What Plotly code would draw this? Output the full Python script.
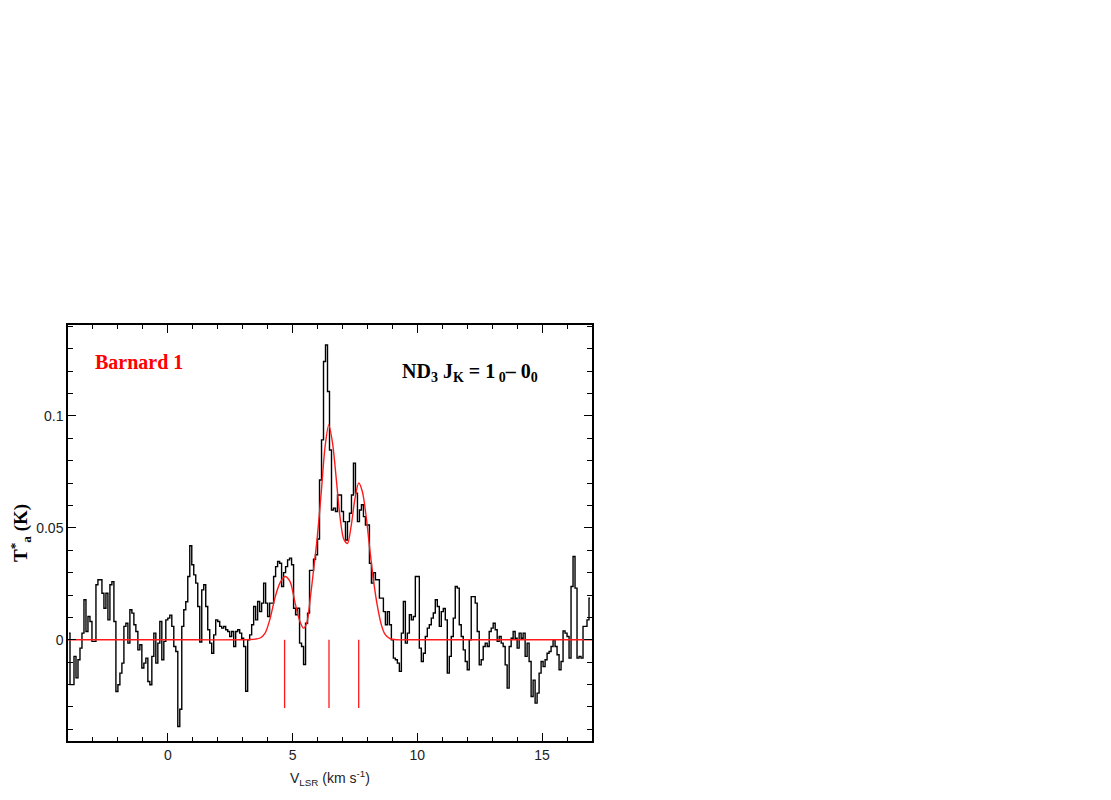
import plotly.graph_objects as go

# ---------------- data ----------------
V_START = -3.96          # centre velocity of first channel (km/s)
CHANNEL_WIDTH = 0.08     # km/s
TA = [
    0.003, -0.020, -0.020, -0.0074, -0.017, -0.0089, -0.0037, 0.003, 0.0179, 0.0037,
    0.0104, 0.0082, -0.0007, -0.0007, 0.0246, 0.0268, 0.0268, 0.0208, 0.0141, 0.0208,
    0.0089, 0.0246, 0.026, 0.0082, -0.0231, -0.0201, -0.0149, -0.0104, 0.006, 0.0074,
    -0.0015, 0.0134, 0.0119, 0.0067, 0.0037, -0.0045, -0.0022, -0.0126, -0.0104, -0.0082,
    -0.0186, -0.0201, -0.0074, 0.003, -0.0104, -0.0015, 0.0082, -0.0089, -0.0007, 0.0089,
    0.0097, 0.011, 0.006, -0.003, -0.0052, -0.0387, -0.031, 0.006, 0.0134, 0.017,
    0.0283, 0.042, 0.0335, 0.029, 0.0253, 0.0149, -0.001, 0.0223, 0.0246, 0.0149,
    0.0045, -0.0015, -0.006, 0.0022, 0.0089, 0.0082, 0.006, 0.0052, 0.006, 0.0045,
    0.0037, 0.0015, 0.0037, -0.003, 0.0037, 0.0045, 0.003, 0.0007, -0.003, -0.023,
    0.0, 0.0022, 0.0067, 0.0149, 0.0089, 0.0171, 0.0126, 0.0164, 0.0253, 0.0164,
    0.0104, 0.0164, 0.0164, 0.0283, 0.0327, 0.035, 0.0342, 0.0238, 0.03, 0.0327,
    0.0357, 0.0365, 0.0335, 0.0141, 0.0112, 0.0141, -0.0015, -0.003, -0.011, 0.0074,
    0.0119, 0.031, 0.031, 0.036, 0.038, 0.045, 0.0714, 0.0893, 0.1243, 0.1317,
    0.1109, 0.0848, 0.058, 0.0588, 0.0573, 0.0647, 0.0647, 0.0573, 0.0528, 0.0446,
    0.0528, 0.0565, 0.0647, 0.0789, 0.0655, 0.0528, 0.058, 0.0603, 0.055, 0.0513,
    0.0513, 0.0342, 0.0253, 0.03, 0.0268, 0.0268, 0.0186, 0.0186, 0.0126, 0.0067,
    0.0126, 0.0067, 0.0, -0.0082, -0.0089, -0.0104, -0.0141, 0.003, 0.0171, -0.0015,
    0.003, 0.0112, 0.0089, 0.0104, 0.0283, 0.0283, -0.0037, -0.0097, -0.006, 0.0015,
    0.0052, 0.0067, 0.0097, 0.012, 0.0179, 0.0149, 0.006, 0.0126, 0.014, 0.0089,
    -0.0149, -0.0074, 0.0015, 0.0097, 0.0238, 0.0231, 0.0067, 0.0015, -0.0045, -0.0097,
    -0.0134, 0.0, 0.0193, 0.0193, 0.0164, 0.0037, -0.0112, -0.0089, -0.003, -0.0015,
    -0.003, 0.0037, 0.0052, 0.0074, 0.0045, -0.0007, 0.0015, -0.0015, -0.003, -0.0112,
    -0.0216, -0.003, 0.0007, 0.0037, 0.0007, -0.0037, 0.003, 0.0007, 0.003, -0.0074,
    -0.0015, -0.0097, -0.0253, -0.018, -0.0283, -0.0238, -0.0149, -0.0097, -0.012, -0.0089,
    -0.006, -0.0052, -0.003, 0.0, -0.003, -0.0067, -0.0134, -0.0097, 0.004, 0.003,
    0.0015, -0.0082, 0.0238, 0.0372, 0.0231, -0.0082, -0.0074, -0.0082, 0.006, 0.006,
    0.0089, 0.0186,
]
VELOCITY = [V_START + CHANNEL_WIDTH * i for i in range(len(TA))]

# hyperfine fit (red curve)
MODEL_V = [-4.0, -1.0, 1.0, 3.0, 3.3, 3.5, 3.7, 3.9, 4.1, 4.3, 4.5, 4.7, 4.9, 5.1, 5.3,
           5.44, 5.57, 5.71, 5.84, 5.98, 6.15, 6.3, 6.45, 6.6, 6.75, 6.9, 7.05, 7.2,
           7.35, 7.5, 7.65, 7.8, 7.95, 8.1, 8.25, 8.4, 8.55, 8.7, 8.9, 9.2, 9.5, 12.0,
           15.0, 17.0]
MODEL_T = [0.0, 0.0, 0.0, 0.0, 0.0001, 0.0003, 0.0008, 0.003, 0.0095, 0.019, 0.0255,
           0.0283, 0.026, 0.0165, 0.008, 0.0052, 0.0075, 0.0186, 0.031, 0.0446, 0.066,
           0.086, 0.096, 0.088, 0.072, 0.055, 0.045, 0.043, 0.051, 0.063, 0.070, 0.066,
           0.055, 0.040, 0.026, 0.015, 0.007, 0.0025, 0.0005, 0.0, 0.0, 0.0, 0.0, 0.0]

# hyperfine component positions (red ticks)
HF_V = [4.68, 6.46, 7.65]
HF_TOP = 0.0
HF_BOTTOM = -0.0305

X_RANGE = [-4.0, 17.0]
Y_RANGE = [-0.0452, 0.1406]
X_TICKS = [0, 5, 10, 15]
Y_TICKS = [0, 0.05, 0.1]
Y_TICK_TEXT = ["0", "0.05", "0.1"]

# ---------------- figure ----------------
fig = go.Figure()

fig.add_trace(go.Scatter(
    x=VELOCITY, y=TA, mode="lines",
    line=dict(color="black", width=1.4, shape="hvh"),
    hoverinfo="skip", showlegend=False))

fig.add_trace(go.Scatter(
    x=MODEL_V, y=MODEL_T, mode="lines",
    line=dict(color="#ff1a1a", width=1.4, shape="spline", smoothing=0.8),
    hoverinfo="skip", showlegend=False))

hf_x, hf_y = [], []
for v in HF_V:
    hf_x += [v, v, None]
    hf_y += [HF_TOP, HF_BOTTOM, None]
fig.add_trace(go.Scatter(
    x=hf_x, y=hf_y, mode="lines",
    line=dict(color="#ff1a1a", width=1.3),
    hoverinfo="skip", showlegend=False))

tick_font = dict(family="Liberation Sans, Arial, sans-serif", size=14, color="#222")

fig.update_xaxes(
    range=X_RANGE, showgrid=False, zeroline=False,
    showline=True, linecolor="black", linewidth=1.5, mirror="allticks",
    ticks="inside", ticklen=8, tickwidth=1.2, tickcolor="black",
    tickvals=X_TICKS, ticktext=[str(t) for t in X_TICKS],
    tickfont=tick_font,
    minor=dict(dtick=1, ticks="inside", ticklen=4, tickwidth=1, tickcolor="black"),
)
fig.update_yaxes(
    range=Y_RANGE, showgrid=False, zeroline=False,
    showline=True, linecolor="black", linewidth=1.5, mirror="allticks",
    ticks="inside", ticklen=8, tickwidth=1.2, tickcolor="black",
    tickvals=Y_TICKS, ticktext=Y_TICK_TEXT,
    tickfont=tick_font,
    minor=dict(dtick=0.01, tick0=0, ticks="inside", ticklen=5, tickwidth=1, tickcolor="black"),
)

fig.add_annotation(
    xref="paper", yref="paper", x=0.047, y=0.911, xanchor="left", yanchor="middle",
    text="<b>Barnard 1</b>", showarrow=False,
    font=dict(family="Liberation Serif, Times New Roman, serif", size=20, color="#ff0000"))

fig.add_annotation(
    xref="paper", yref="paper", x=0.634, y=0.887, xanchor="left", yanchor="middle",
    text="<b>ND<sub>3</sub> J<sub>K</sub> = 1<sub> 0</sub>– 0<sub>0</sub></b>", showarrow=False,
    font=dict(family="Liberation Serif, Times New Roman, serif", size=20, color="black"))

fig.add_annotation(
    xref="paper", yref="paper", x=0.0, y=0.5, xanchor="center", yanchor="middle",
    xshift=-48, textangle=-90,
    text="<b>T<sup>*</sup><sub>a</sub> (K)</b>", showarrow=False,
    font=dict(family="Liberation Serif, Times New Roman, serif", size=19, color="black"))

fig.add_annotation(
    xref="paper", yref="paper", x=0.5, y=0.0, xanchor="center", yanchor="top",
    yshift=-25,
    text="V<sub>LSR</sub> (km s<sup>-1</sup>)", showarrow=False,
    font=dict(family="Liberation Sans, Arial, sans-serif", size=14, color="#222"))

fig.update_layout(
    width=1095, height=784,
    margin=dict(l=60, r=511, t=317, b=51, autoexpand=False),
    paper_bgcolor="white", plot_bgcolor="white",
    showlegend=False,
)

fig.write_html("out.html")
